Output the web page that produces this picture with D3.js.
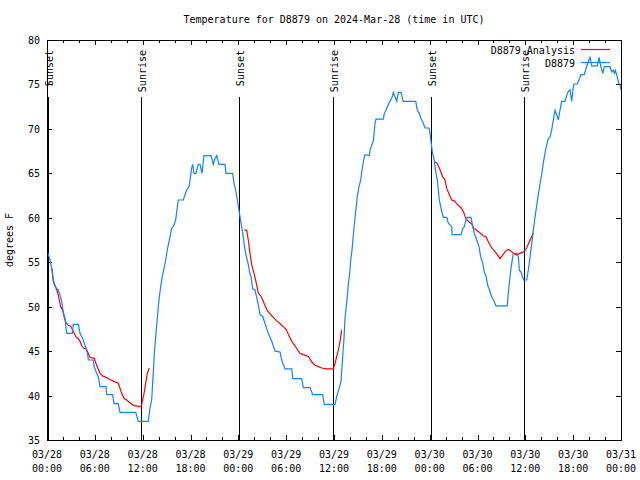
<!DOCTYPE html>
<html><head><meta charset="utf-8">
<script src="https://cdn.jsdelivr.net/npm/d3@7"></script>
<style>
body{margin:0;background:#fff}
svg{display:block}
text{font-family:"DejaVu Sans Mono",monospace;font-size:10px;fill:#000}
</style>
</head><body><svg id="chart" width="640" height="480"></svg>
<script>
// ---------- data ----------
const titleText = "Temperature for D8879 on 2024-Mar-28 (time in UTC)";
const yAxisLabel = "degrees F";
const seriesNames = ["D8879 Analysis", "D8879"];
const startTime = "2024-03-28T00:00:00Z";
const endTime = "2024-03-31T00:00:00Z";
const yTickValues = [35, 40, 45, 50, 55, 60, 65, 70, 75, 80];

// observations: hours after 2024-03-28 00:00 UTC, degrees F
const obsHours = [0.13,0.38,0.63,0.79,1.13,1.42,1.63,1.84,2.04,2.26,2.38,2.47,3.17,3.30,3.93,4.14,4.48,4.68,4.89,5.11,5.18,5.81,5.93,6.15,6.44,6.65,7.40,7.49,8.24,8.40,8.94,9.16,11.13,11.45,12.71,12.92,13.13,13.21,13.33,13.48,13.67,13.84,13.96,14.09,14.26,14.46,14.68,14.89,15.09,15.34,15.64,15.93,16.14,16.27,16.47,17.10,17.31,17.52,17.81,17.94,18.15,18.28,18.44,18.69,18.98,19.19,19.44,19.69,20.57,20.86,21.07,21.29,21.58,22.33,22.45,23.29,23.46,23.67,23.87,24.12,24.30,24.55,24.75,24.96,25.21,25.46,25.59,25.80,26.09,26.31,26.51,26.72,27.06,27.35,27.76,28.19,28.60,29.23,29.44,29.85,30.70,30.82,31.95,32.15,32.99,33.33,34.58,34.78,36.13,36.34,36.67,36.88,37.09,37.26,37.38,37.59,37.80,37.92,38.10,38.26,38.42,38.64,38.76,38.92,39.14,39.35,39.55,39.77,39.89,40.43,40.52,40.73,40.93,41.14,41.27,42.19,42.31,42.52,42.69,42.90,43.11,43.32,43.44,43.65,43.87,44.07,44.41,44.69,46.25,46.45,46.70,46.88,47.13,47.42,47.92,48.04,48.17,48.33,48.55,48.67,48.80,48.96,49.09,49.21,49.39,49.51,49.71,50.14,50.34,50.77,50.81,51.93,52.15,52.35,52.56,52.72,53.19,53.40,53.60,53.90,54.19,54.40,54.65,54.86,55.07,55.28,55.57,55.78,55.98,56.32,57.74,57.86,57.99,58.17,58.33,58.49,58.99,59.12,59.25,59.46,59.62,59.80,60.17,60.37,60.59,60.80,61.00,61.22,61.43,61.63,61.84,62.05,62.26,62.47,62.68,62.88,63.10,63.31,63.51,63.72,63.93,64.14,64.35,64.56,64.98,65.19,65.39,65.61,65.82,66.02,66.11,66.52,66.74,66.95,67.40,67.61,67.90,68.11,68.33,69.03,69.24,69.46,69.71,69.91,70.62,70.84,71.04,71.17,71.29,71.46,71.67,71.88,72.0];
const obsTemps = [56.0,55.25,54.1,52.8,52.1,51.9,51.3,50.6,49.4,48.7,47.6,47.0,47.0,48.0,48.0,47.0,46.4,45.9,45.3,44.6,44.0,44.0,43.2,42.7,42.1,41.0,41.0,40.1,40.1,39.1,39.1,38.1,38.1,37.1,37.1,38.6,39.5,40.8,42.5,45.0,47.0,48.7,50.0,51.1,52.25,53.4,54.3,55.25,56.4,57.5,58.8,59.2,59.75,60.7,62.0,62.0,62.6,63.1,63.5,64.25,65.6,66.0,65.0,65.0,66.0,66.0,65.0,67.0,67.0,66.0,66.7,67.0,66.0,66.0,65.0,65.0,63.9,63.1,62.0,60.6,59.6,58.3,56.9,55.8,54.9,53.7,53.4,52.0,51.9,51.0,50.2,49.1,48.9,48.1,47.0,46.1,45.0,44.9,44.0,43.0,43.0,41.9,41.9,40.9,40.9,40.1,40.1,39.0,39.0,39.9,40.9,41.6,44.4,46.5,48.7,50.4,52.5,53.4,55.25,56.4,58.0,60.0,61.0,62.4,63.5,64.25,65.6,66.7,67.1,67.0,67.6,68.2,68.6,70.6,71.1,71.1,71.75,72.1,72.5,72.9,73.25,73.6,74.1,73.6,73.1,74.1,74.1,73.1,73.1,72.1,71.75,71.2,70.8,70.1,70.1,69.5,68.6,67.4,66.6,65.75,65.0,64.2,63.1,62.0,61.25,60.7,60.05,60.05,59.4,59.0,58.1,58.1,58.8,59.0,59.75,60.05,60.05,59.0,58.25,57.5,56.75,55.6,54.9,53.9,53.4,52.4,51.7,51.1,50.8,50.1,50.1,51.5,52.6,54.1,55.1,56.0,56.0,55.6,54.1,53.9,53.4,53.0,53.0,54.1,55.6,57.1,58.6,60.1,61.4,62.6,63.8,64.9,66.2,67.3,68.2,68.9,69.1,69.9,71.0,72.1,71.6,71.0,72.1,73.1,73.1,73.8,74.2,74.4,73.1,74.75,75.05,75.05,75.5,76.1,76.1,76.8,77.6,78.05,77.1,77.1,78.05,77.1,76.25,77.0,77.0,76.4,76.6,76.25,76.6,76.1,75.3,74.9,74.4];

// analysis segments (night-time runs)
const anaHours1 = [0.63,0.79,1.00,1.22,1.42,1.54,1.72,1.97,2.13,2.38,2.67,2.97,3.17,3.42,3.64,3.93,4.14,4.35,4.64,4.89,5.18,5.39,5.73,5.93,6.15,6.36,6.65,6.99,7.40,7.90,8.40,8.94,9.16,9.37,9.66,10.00,10.41,10.83,11.45,11.79,11.95,12.17,12.38,12.58,12.83];
const anaTemps1 = [54.3,53.0,52.4,51.9,51.3,50.75,50.0,49.6,48.9,48.2,47.9,47.8,47.45,47.0,46.6,46.4,46.1,45.6,45.3,45.3,44.75,44.3,44.2,44.2,43.6,43.1,42.5,42.2,42.05,41.8,41.6,41.4,40.8,40.25,39.7,39.5,39.2,38.9,38.8,38.75,39.3,40.25,41.4,42.5,43.1];
const anaHours2 = [24.75,25.05,25.25,25.46,25.68,25.97,26.22,26.51,26.81,27.06,27.35,27.64,27.97,28.39,28.81,29.23,29.64,29.98,30.27,30.70,31.11,31.45,31.74,32.15,32.78,33.20,33.62,34.03,34.46,35.09,35.92,36.13,36.34,36.54,36.76,36.97];
const anaTemps2 = [58.6,58.6,57.5,56.0,54.7,53.75,52.8,51.5,51.2,50.75,50.1,49.55,49.2,48.8,48.4,48.1,47.75,47.45,46.9,46.1,45.6,45.1,44.75,44.6,44.4,43.8,43.4,43.25,43.1,43.0,43.0,43.6,44.4,45.1,46.1,47.4];
const anaHours3 = [48.67,48.96,49.30,49.64,49.93,50.14,50.47,50.77,51.09,51.39,51.72,52.02,52.31,52.56,52.85,53.27,53.56,53.98,54.32,54.73,55.07,55.36,55.78,56.20,56.54,56.83,57.24,57.58,57.86,58.17,58.49,58.92,59.33,59.83,60.17,60.50,60.80,61.00];
const anaTemps3 = [66.3,66.1,65.4,64.6,64.25,63.3,62.6,62.0,61.9,61.6,61.3,61.05,60.5,59.9,59.6,59.3,58.8,58.55,58.3,57.95,57.9,57.3,56.6,56.2,55.8,55.4,55.9,56.3,56.45,56.3,56.0,55.8,56.0,56.2,56.6,57.3,57.9,58.3];

const sunEventLabels = ["Sunset","Sunrise","Sunset","Sunrise","Sunset","Sunrise"];
const sunEventHours = [0.13, 11.83, 24.12, 35.91, 48.21, 59.87];

// ---------- drawing ----------
const svg = d3.select("#chart");
const t0 = new Date(startTime), t1 = new Date(endTime);
const toDate = h => new Date(t0.getTime() + h * 3600e3);
const L = 47, R = 621, T = 40, B = 440;
const x = d3.scaleUtc().domain([t0, t1]).range([L, R]);
const y = d3.scaleLinear().domain([yTickValues[0], yTickValues[yTickValues.length-1]]).range([B, T]);

const blue = "#0f84ff", red = "#ff0000";

svg.append("defs").append("clipPath").attr("id","clip")
  .append("rect").attr("x",L).attr("y",T).attr("width",R-L).attr("height",B-T);

// title
svg.append("text").attr("x",(L+R)/2).attr("y",23).attr("text-anchor","middle").text(titleText);
// y label
svg.append("text").attr("transform","translate(13,240) rotate(-90)").attr("text-anchor","middle").text(yAxisLabel);

// ticks
const majorX = d3.utcHour.every(6).range(t0, new Date(t1.getTime()+1));
const minorX = d3.utcHour.every(2).range(t0, new Date(t1.getTime()+1));
const g = svg.append("g").attr("shape-rendering","crispEdges").attr("stroke","#000");
minorX.forEach(d => {
  const xx = Math.round(x(d))+0.5;
  g.append("line").attr("x1",xx).attr("x2",xx).attr("y1",B).attr("y2",B-3);
  g.append("line").attr("x1",xx).attr("x2",xx).attr("y1",T).attr("y2",T+3);
});
majorX.forEach(d => {
  const xx = Math.round(x(d))+0.5;
  g.append("line").attr("x1",xx).attr("x2",xx).attr("y1",B).attr("y2",B-5);
  g.append("line").attr("x1",xx).attr("x2",xx).attr("y1",T).attr("y2",T+5);
});
yTickValues.forEach(v => {
  const yy = Math.round(y(v))+0.5;
  g.append("line").attr("x1",L).attr("x2",L+5).attr("y1",yy).attr("y2",yy);
  g.append("line").attr("x1",R).attr("x2",R-5).attr("y1",yy).attr("y2",yy);
});
const fmtD = d3.utcFormat("%m/%d"), fmtH = d3.utcFormat("%H:%M");
majorX.forEach(d => {
  const t = svg.append("text").attr("text-anchor","middle");
  t.append("tspan").attr("x",x(d)).attr("y",458).text(fmtD(d));
  t.append("tspan").attr("x",x(d)).attr("y",472).text(fmtH(d));
});
yTickValues.forEach(v => {
  svg.append("text").attr("x",40).attr("y",y(v)+4).attr("text-anchor","end").text(v);
});

// sun event lines
sunEventHours.forEach((h,i) => {
  const xx = Math.round(x(toDate(h)))+0.5;
  svg.append("line").attr("x1",xx).attr("x2",xx).attr("y1",97).attr("y2",B)
    .attr("stroke","#000").attr("shape-rendering","crispEdges");
  svg.append("text").attr("transform",`translate(${xx+4},50) rotate(-90)`)
    .attr("text-anchor","end").text(sunEventLabels[i]);
});

// border
svg.append("rect").attr("x",L+0.5).attr("y",T+0.5).attr("width",R-L).attr("height",B-T)
  .attr("fill","none").attr("stroke","#000").attr("shape-rendering","crispEdges");

const line = d3.line().x(d => x(toDate(d[0]))).y(d => y(d[1]));
const plot = svg.append("g").attr("clip-path","url(#clip)");
[[anaHours1,anaTemps1],[anaHours2,anaTemps2],[anaHours3,anaTemps3]].forEach(([hs,ts]) => {
  plot.append("path").datum(hs.map((h,i)=>[h,ts[i]])).attr("d",line)
    .attr("fill","none").attr("stroke",red).attr("stroke-width",1.2);
});
plot.append("path").datum(obsHours.map((h,i)=>[h,obsTemps[i]])).attr("d",line)
  .attr("fill","none").attr("stroke",blue).attr("stroke-width",1.2);

// legend
const leg = [[seriesNames[0], red, 50],[seriesNames[1], blue, 63]];
leg.forEach(([name,col,yy]) => {
  svg.append("text").attr("x",575).attr("y",yy+3.5).attr("text-anchor","end").text(name);
  svg.append("line").attr("x1",581).attr("x2",610).attr("y1",yy-0.5).attr("y2",yy-0.5)
    .attr("stroke",col).attr("stroke-width",1.2);
});
</script>
</body></html>
